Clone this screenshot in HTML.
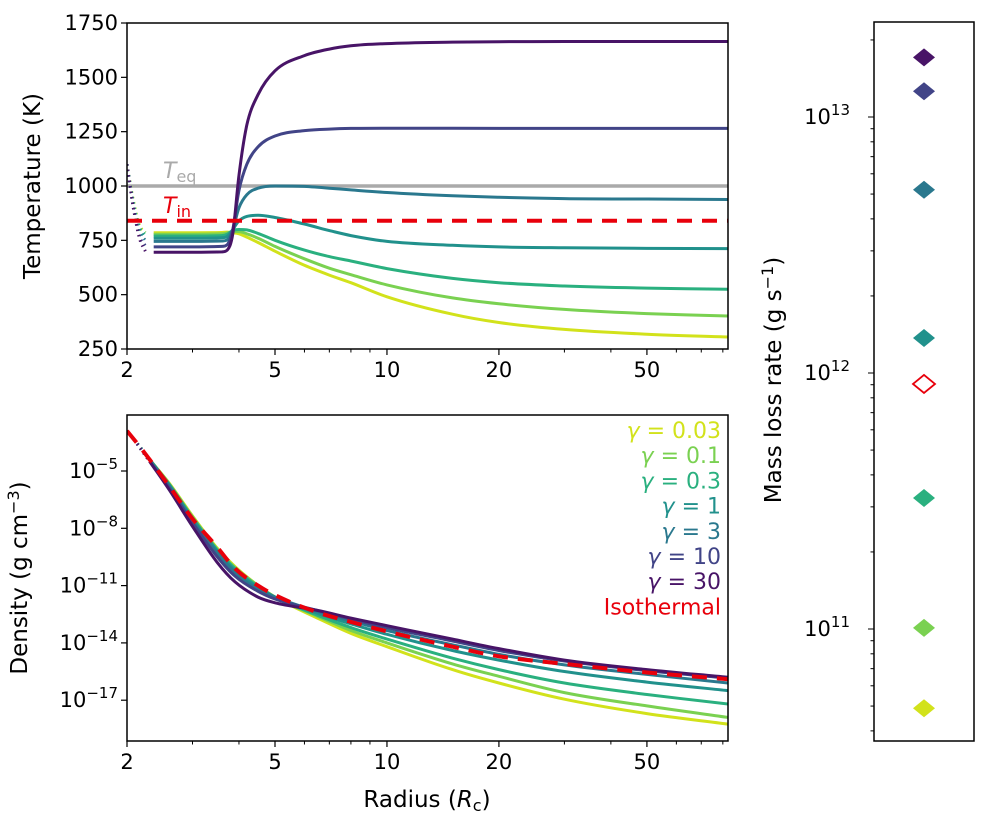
<!DOCTYPE html>
<html><head><meta charset="utf-8">
<style>
body{margin:0;background:#fff;}
svg{display:block;font-family:"DejaVu Sans","Liberation Sans",sans-serif;}
</style></head>
<body>
<svg id="fig" width="1000" height="815" viewBox="0 0 1000 815"></svg>
<script>
const gammaLabels = ["0.03","0.1","0.3","1","3","10","30"];
const gammaColors = ["#d2e21b","#7ad151","#2ab07f","#21918c","#2a788e","#414487","#481467"];
const tempR = [2.0,2.08,2.16,2.24,2.36,3.0,3.6,3.72,3.85,4.0,4.2,4.5,5,6,7,8,10,15,20,30,50,82.6];
const temp003 = [1100,935,820,790,785,785,786,788,785,780,765,740,700,635,590,555,490,410,372,340,318,305];
const temp01  = [1100,930,815,785,778,778,780,784,790,790,780,760,722,665,622,592,545,485,458,432,413,402];
const temp03  = [1100,920,810,775,770,770,772,778,795,800,798,782,750,705,675,655,620,575,555,540,530,525];
const temp1   = [1100,920,800,765,760,760,762,768,800,840,860,865,855,825,795,772,745,727,720,716,713,712];
const temp3   = [1100,910,790,750,745,745,747,752,800,900,960,990,1000,998,990,982,970,955,948,942,940,938];
const temp10  = [1100,900,770,725,720,720,722,730,800,980,1100,1180,1230,1255,1262,1265,1266,1266,1265,1265,1265,1265];
const temp30  = [1100,900,760,700,695,695,697,705,780,1050,1280,1420,1530,1600,1630,1645,1655,1662,1664,1665,1665,1665];
const tempSeries = [temp003,temp01,temp03,temp1,temp3,temp10,temp30];
const tEq = 1000, tIn = 840;
const densR = [2,2.15,2.3,2.6,3,3.5,3.9,4.5,5,6.5,8,10,15,20,30,50,82.6];
const dens003 = [-2.9,-3.65,-4.4,-5.65,-7.35,-9.05,-10.0,-11.0,-11.6,-12.7,-13.5,-14.2,-15.4,-16.1,-16.95,-17.7,-18.25];
const dens01  = [-2.9,-3.65,-4.4,-5.7,-7.4,-9.1,-10.05,-11.0,-11.6,-12.6,-13.35,-14.0,-15.1,-15.75,-16.6,-17.3,-17.9];
const dens03  = [-2.9,-3.65,-4.4,-5.7,-7.45,-9.15,-10.1,-11.05,-11.6,-12.55,-13.2,-13.8,-14.8,-15.4,-16.1,-16.7,-17.2];
const dens1   = [-2.9,-3.65,-4.4,-5.75,-7.5,-9.2,-10.2,-11.1,-11.6,-12.45,-13.0,-13.55,-14.4,-14.9,-15.5,-16.05,-16.5];
const dens3   = [-2.9,-3.65,-4.4,-5.8,-7.6,-9.3,-10.3,-11.2,-11.6,-12.35,-12.85,-13.35,-14.1,-14.6,-15.15,-15.65,-16.1];
const dens10  = [-2.9,-3.7,-4.5,-5.9,-7.7,-9.5,-10.5,-11.3,-11.7,-12.3,-12.75,-13.2,-13.9,-14.4,-14.95,-15.45,-15.85];
const dens30  = [-2.9,-3.7,-4.5,-6.0,-7.9,-9.8,-10.8,-11.6,-11.9,-12.3,-12.7,-13.1,-13.8,-14.3,-14.9,-15.4,-15.8];
const densSeries = [dens003,dens01,dens03,dens1,dens3,dens10,dens30];
const densIso = [-2.9,-3.65,-4.4,-5.8,-7.5,-9.0,-10.1,-11.0,-11.5,-12.4,-12.9,-13.4,-14.2,-14.7,-15.1,-15.55,-15.9];
const massLoss = [4.9e10,1.01e11,3.25e11,1.37e12,5.2e12,1.26e13,1.71e13];
const massLossIso = 9.06e11;
const xTicks = [2,5,10,20,50];
const xMinor = [3,4,6,7,8,9,30,40,60,70,80];
const tTicks = [250,500,750,1000,1250,1500,1750];
const dTicks = [-5,-8,-11,-14,-17];
const mTicks = [11,12,13];

const NS="http://www.w3.org/2000/svg", svg=document.getElementById('fig');
function el(tag,attrs,parent){const e=document.createElementNS(NS,tag);for(const k in attrs)e.setAttribute(k,attrs[k]);(parent||svg).appendChild(e);return e;}
const XL=127,XR=728, XMAX=82.6;
const xs = r => XL + Math.log10(r/2)/Math.log10(XMAX/2)*(XR-XL);
const TT=23,TB=349; const yT = t => TT + (1750-t)/1500*(TB-TT);
const DT=415,DB=741; const yD = L => 471 + (-5-L)*19.1;
const MT=22,MB=741; const yM = v => 117 + (13-Math.log10(v))*256;

function smooth(px,py){
  const n=px.length; if(n<3) return px.map((x,i)=>(i?'L':'M')+x.toFixed(1)+','+py[i].toFixed(1)).join(' ');
  // monotone cubic (Fritsch-Carlson) in pixel space
  const d=[],m=[];
  for(let i=0;i<n-1;i++) d.push((py[i+1]-py[i])/(px[i+1]-px[i]));
  m[0]=d[0]; m[n-1]=d[n-2];
  for(let i=1;i<n-1;i++){ m[i] = (d[i-1]*d[i]<=0)?0:(d[i-1]+d[i])/2; }
  for(let i=0;i<n-1;i++){ if(d[i]===0){m[i]=0;m[i+1]=0;continue;}
    const a=m[i]/d[i], b=m[i+1]/d[i], s=a*a+b*b; if(s>9){const t=3/Math.sqrt(s);m[i]=t*a*d[i];m[i+1]=t*b*d[i];} }
  let s='M'+px[0].toFixed(1)+','+py[0].toFixed(1);
  for(let i=0;i<n-1;i++){const h=(px[i+1]-px[i])/3;
    s+=' C'+(px[i]+h).toFixed(1)+','+(py[i]+m[i]*h).toFixed(1)+' '+(px[i+1]-h).toFixed(1)+','+(py[i+1]-m[i+1]*h).toFixed(1)+' '+px[i+1].toFixed(1)+','+py[i+1].toFixed(1);}
  return s;
}

function xAxis(bottom, name){
  xTicks.forEach(t=>{const l=el('line',{x1:xs(t),x2:xs(t),y1:bottom,y2:bottom+6,stroke:'#000','stroke-width':1.2});
    
    const tx=el('text',{x:xs(t),y:bottom+28,'font-size':21,'text-anchor':'middle'});tx.textContent=t;
    });
  xMinor.forEach(t=>{const l=el('line',{x1:xs(t),x2:xs(t),y1:bottom,y2:bottom+3.5,stroke:'#000','stroke-width':1});
    });
}

el('defs',{}).innerHTML='<clipPath id="cT"><rect x="127" y="23" width="601" height="326"/></clipPath><clipPath id="cD"><rect x="127" y="415" width="601" height="326"/></clipPath>';
// top panel
const gTop=el('g',{});
const ln=el('line',{x1:XL,x2:XR,y1:yT(tEq),y2:yT(tEq),stroke:'#aaaaaa','stroke-width':3.5},gTop);

const ND=3;
tempSeries.forEach((s,i)=>{
  const px=tempR.map(xs), py=s.map(yT);
  const d1=el('path',{d:smooth(px.slice(0,ND+1),py.slice(0,ND+1)),fill:'none',stroke:gammaColors[i],'stroke-width':3,'stroke-dasharray':'1.5,4','clip-path':'url(#cT)'},gTop);
  
  const d2=el('path',{d:smooth(px.slice(ND+1),py.slice(ND+1)),fill:'none',stroke:gammaColors[i],'stroke-width':3,'clip-path':'url(#cT)'},gTop);
  
});
const li=el('line',{x1:XL,x2:XR,y1:yT(tIn),y2:yT(tIn),stroke:'#e8000b','stroke-width':4,'stroke-dasharray':'15,10'},gTop);

let t=el('text',{x:163,y:yT(tEq)-8,'font-size':22,fill:'#aaaaaa'},gTop);t.innerHTML='<tspan font-style="italic">T</tspan><tspan font-size="16" dy="4">eq</tspan>';

t=el('text',{x:163,y:yT(tIn)-8,'font-size':22,fill:'#e8000b'},gTop);t.innerHTML='<tspan font-style="italic">T</tspan><tspan font-size="16" dy="4">in</tspan>';

const fT=el('rect',{x:XL,y:TT,width:XR-XL,height:TB-TT,fill:'none',stroke:'#000','stroke-width':1.5},gTop);

tTicks.forEach(v=>{el('line',{x1:XL-6,x2:XL,y1:yT(v),y2:yT(v),stroke:'#000','stroke-width':1.2});
  const tx=el('text',{x:XL-9,y:yT(v)+7,'font-size':21,'text-anchor':'end'});tx.textContent=v;
  });
xAxis(TB,'top-x');
t=el('text',{transform:'translate(40,186) rotate(-90)','font-size':23,'text-anchor':'middle'});t.textContent='Temperature (K)';


// bottom panel
const gB=el('g',{});
const NDD=2;
densSeries.forEach((s,i)=>{
  const px=densR.map(xs), py=s.map(yD);
  const d1=el('path',{d:smooth(px.slice(0,NDD+1),py.slice(0,NDD+1)),fill:'none',stroke:gammaColors[i],'stroke-width':3,'stroke-dasharray':'1.5,4','clip-path':'url(#cD)'},gB);
  
  const d2=el('path',{d:smooth(px.slice(NDD),py.slice(NDD)),fill:'none',stroke:gammaColors[i],'stroke-width':3,'clip-path':'url(#cD)'},gB);
  
});
const iso=el('path',{d:smooth(densR.map(xs),densIso.map(yD)),fill:'none',stroke:'#e8000b','stroke-width':4,'stroke-dasharray':'15,10','clip-path':'url(#cD)'},gB);

const fD=el('rect',{x:XL,y:DT,width:XR-XL,height:DB-DT,fill:'none',stroke:'#000','stroke-width':1.5},gB);

dTicks.forEach(v=>{el('line',{x1:XL-6,x2:XL,y1:yD(v),y2:yD(v),stroke:'#000','stroke-width':1.2});
  const tx=el('text',{x:XL-9,y:yD(v)+7,'font-size':21,'text-anchor':'end'});
  tx.innerHTML='10<tspan font-size="15" dy="-9">−'+Math.abs(v)+'</tspan>';
  });
xAxis(DB,'bottom-x');
t=el('text',{transform:'translate(27,578) rotate(-90)','font-size':23,'text-anchor':'middle'});
t.innerHTML='Density (g cm<tspan font-size="16" dy="-8">−3</tspan><tspan dy="8">)</tspan>';

t=el('text',{x:427,y:807,'font-size':23,'text-anchor':'middle'});
t.innerHTML='Radius (<tspan font-style="italic">R</tspan><tspan font-size="16" dy="4">c</tspan><tspan dy="-4">)</tspan>';

const legTexts=gammaLabels.map(g=>'γ = '+g).concat(['Isothermal']);
const legCols=gammaColors.concat(['#e8000b']);
legTexts.forEach((s,i)=>{const tx=el('text',{x:721,y:438+i*25.2,'font-size':22,'text-anchor':'end',fill:legCols[i]});
  tx.innerHTML = i<7 ? '<tspan font-style="italic">γ</tspan> = '+gammaLabels[i] : s;
  });

// right panel
const gM=el('g',{});
const fM=el('rect',{x:874,y:MT,width:100,height:MB-MT,fill:'none',stroke:'#000','stroke-width':1.5},gM);

for(let d=10;d<=13;d++)for(let m=1;m<10;m++){const v=m*Math.pow(10,d);const y=yM(v);if(y<MT||y>MB)continue;
  el('line',{x1:m==1?868:870.5,x2:874,y1:y,y2:y,stroke:'#000','stroke-width':1});}
mTicks.forEach(d=>{const tx=el('text',{x:850,y:yM(Math.pow(10,d))+7,'font-size':21,'text-anchor':'end'});
  tx.innerHTML='10<tspan font-size="15" dy="-9">'+d+'</tspan>';
  });
const dia=(cx,cy)=>`M${cx-11},${cy} L${cx},${cy-9} L${cx+11},${cy} L${cx},${cy+9} Z`;
massLoss.forEach((v,i)=>{const p=el('path',{d:dia(924,yM(v)),fill:gammaColors[i]},gM);
  });
const pi=el('path',{d:dia(924,yM(massLossIso)),fill:'#fff',stroke:'#e8000b','stroke-width':1.8},gM);

t=el('text',{transform:'translate(781,380) rotate(-90)','font-size':23,'text-anchor':'middle'});
t.innerHTML='Mass loss rate (g s<tspan font-size="16" dy="-8">−1</tspan><tspan dy="8">)</tspan>';

</script>
</body></html>
